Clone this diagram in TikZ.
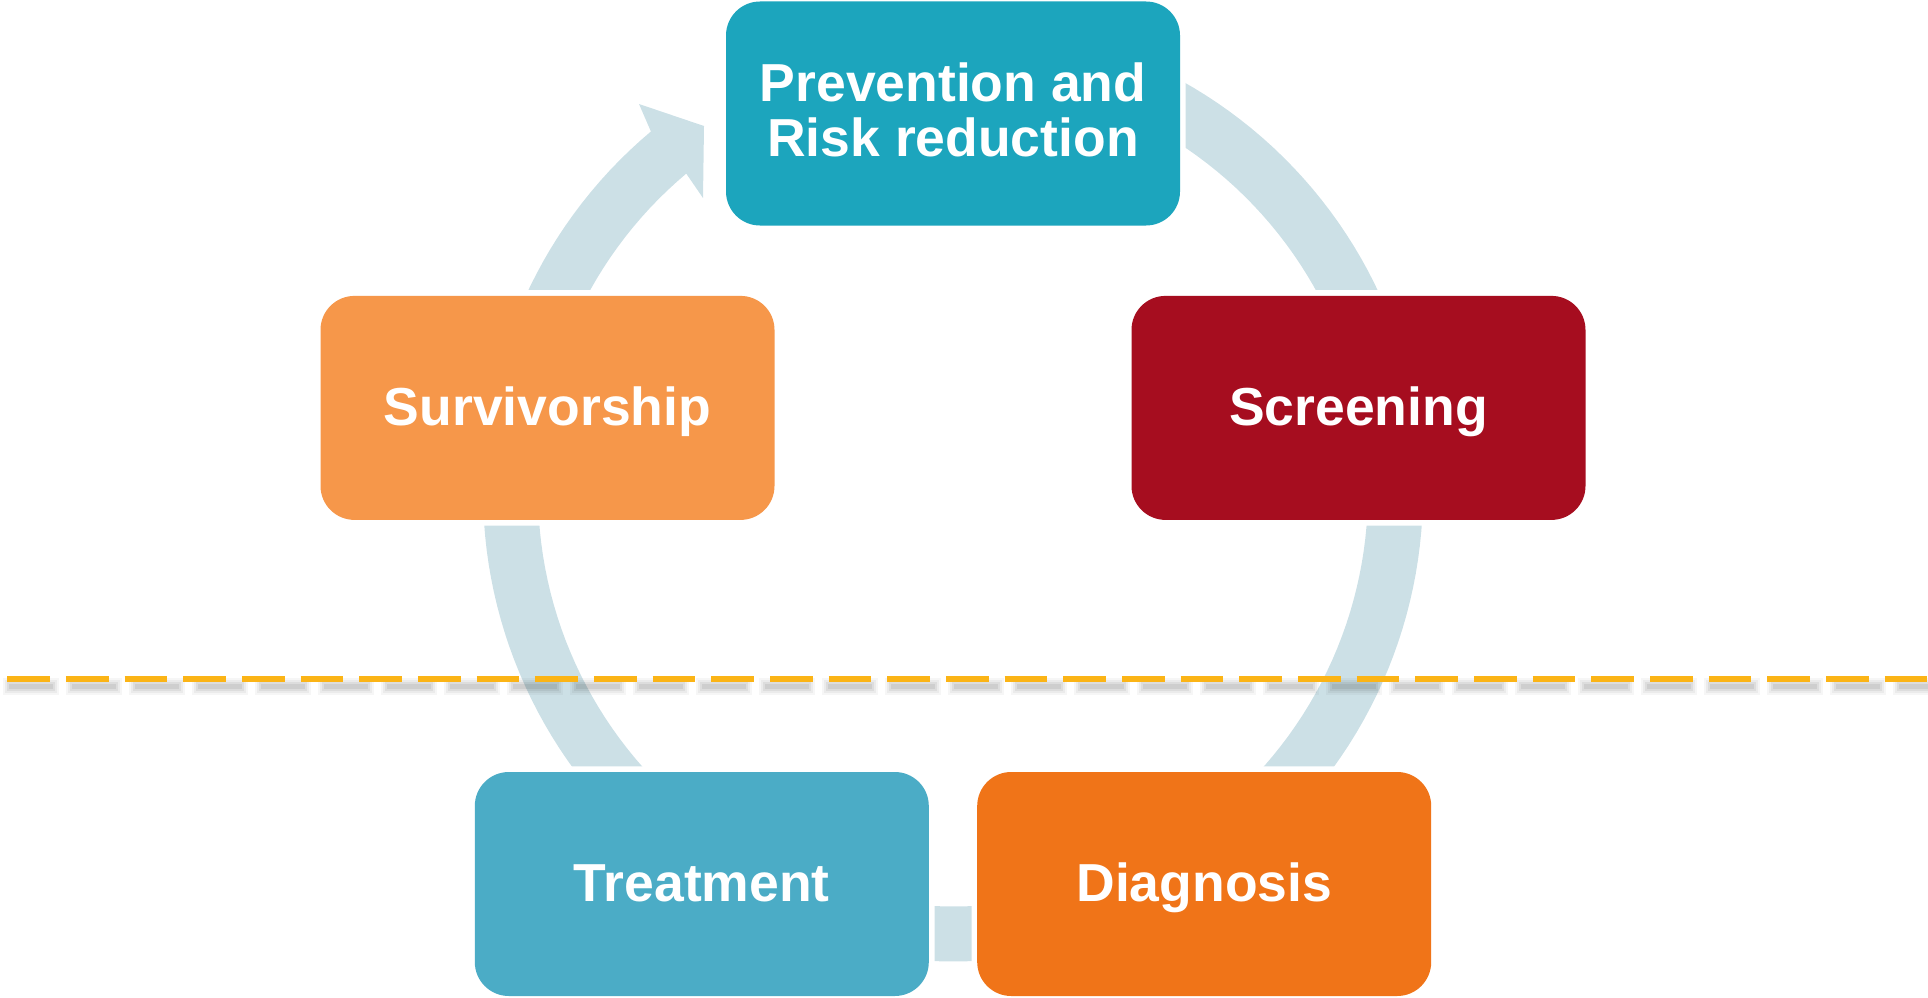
\documentclass[tikz,border=0pt]{standalone}
\usepackage{fontspec}
\newfontfamily\lsans{Liberation Sans}
\definecolor{ringcol}{HTML}{CCE0E6}
\definecolor{prevcol}{HTML}{1CA5BD}
\definecolor{scrcol}{HTML}{A60D1F}
\definecolor{survcol}{HTML}{F6974A}
\definecolor{treatcol}{HTML}{4BACC6}
\definecolor{diagcol}{HTML}{F07418}
\definecolor{dashcol}{HTML}{FBB416}
\begin{document}
\begin{tikzpicture}[x=1pt,y=-1pt,
  boxtxt/.style={text=white, font=\lsans\bfseries\fontsize{53.5}{55}\selectfont},
  stagebox/.style={boxtxt, rectangle, rounded corners=34pt, minimum width=454pt,
    minimum height=224pt, inner sep=0pt, text height=35.6pt, text depth=0pt,
    preaction={draw=white, line width=11.4pt}},
  shadowline/.style={black!80, line cap=butt}]
\useasboundingbox (0,0) rectangle (1928,998);
\clip (0,0) rectangle (1928,998);

% circular band with its arrowhead
\fill[ringcol]
  plot[domain=-80:230, samples=180] ({953+470*cos(\x)},{491.5+470*sin(\x)})
  -- (639,104) -- (704,126) -- (703,198)
  -- plot[domain=230:-80, samples=180] ({953+415*cos(\x)},{491.5+415*sin(\x)})
  -- cycle;

% soft shadow of the dividing line (layered to look blurred)
\draw[shadowline, opacity=0.045, line width=17pt, dash pattern=on 55.86pt off 7.15pt] (2.8,686.5) -- (2100,686.5);
\draw[shadowline, opacity=0.06, line width=13pt, dash pattern=on 51.86pt off 11.15pt] (4.8,686.5) -- (2100,686.5);
\draw[shadowline, opacity=0.075, line width=9pt, dash pattern=on 47.86pt off 15.15pt] (6.8,686.5) -- (2100,686.5);
\draw[shadowline, opacity=0.09, line width=5pt, dash pattern=on 43.86pt off 19.15pt] (8.8,686.5) -- (2100,686.5);
% dividing line
\draw[dashcol, line width=6pt, dash pattern=on 42.7pt off 15.97pt] (7.3,679) -- (1928,679);

% stages
\node[stagebox, fill=prevcol] (prev) at (953,113.5) {};
\node[boxtxt, align=center, inner sep=0pt] (prevtxt) at (953,110) {Prevention and\\Risk reduction};
\node[stagebox, fill=scrcol] (scr) at (1358.5,407.9) {Screening};
\node[stagebox, fill=survcol] (surv) at (547.5,407.9) {Survivorship};
\node[stagebox, fill=treatcol] (treat) at (701.8,884) {Treatment};
\node[stagebox, fill=diagcol] (diag) at (1204.2,884) {Diagnosis};
\end{tikzpicture}
\end{document}
